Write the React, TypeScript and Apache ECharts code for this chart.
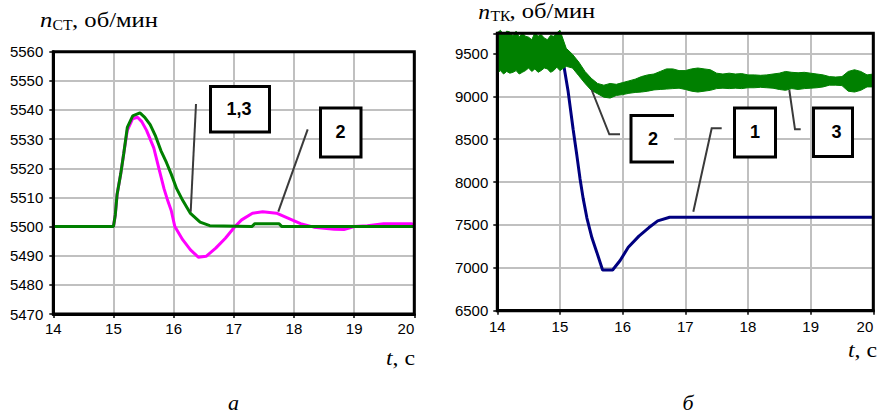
import React, { useEffect, useRef } from 'react';
import * as echarts from 'echarts';

// ---------- Left chart (а): n_СТ, об/мин ----------
const xTicksA = [14, 15, 16, 17, 18, 19, 20];
const yTicksA = [5470, 5480, 5490, 5500, 5510, 5520, 5530, 5540, 5550, 5560];

// curves 1,3 (green)
const c13T = [14, 15.0, 15.03, 15.06, 15.12, 15.17, 15.23, 15.32, 15.44, 15.52, 15.61, 15.7, 15.79, 15.88, 15.96, 16.05, 16.15, 16.28, 16.44, 16.6, 17.3, 17.35, 17.75, 17.8, 20];
const c13V = [5500, 5500, 5504, 5511, 5518, 5525, 5534, 5538, 5539, 5537.5, 5535, 5531, 5526, 5522, 5518, 5513, 5509, 5504.5, 5501.5, 5500.3, 5500, 5501, 5501, 5500, 5500];

// curve 2 (magenta)
const c2T = [14, 15.0, 15.03, 15.06, 15.12, 15.17, 15.23, 15.32, 15.4, 15.47, 15.55, 15.67, 15.76, 15.84, 15.9, 15.96, 16.02, 16.15, 16.28, 16.41, 16.54, 16.7, 16.86, 17.02, 17.13, 17.31, 17.48, 17.71, 17.89, 18.11, 18.33, 18.67, 18.83, 19.0, 19.22, 19.49, 19.95, 20];
const c2V = [5500, 5500, 5504, 5511, 5518, 5525, 5533, 5537, 5537.5, 5536, 5533, 5527, 5519.5, 5513, 5509, 5505.5, 5500, 5495.5, 5492, 5489.5, 5489.8, 5492.6, 5496, 5500, 5502.3, 5504.6, 5505.1, 5504.6, 5503, 5501, 5499.8, 5499.1, 5499, 5500, 5500.3, 5501, 5501, 5500.5];

// ---------- Right chart (б): n_ТК, об/мин ----------
const xTicksB = [14, 15, 16, 17, 18, 19, 20];
const yTicksB = [6500, 7000, 7500, 8000, 8500, 9000, 9500];

// curve 1 (navy)
const b1T = [14, 15.0, 15.06, 15.13, 15.21, 15.27, 15.32, 15.37, 15.43, 15.51, 15.59, 15.68, 15.84, 15.96, 16.09, 16.26, 16.42, 16.56, 16.75, 20];
const b1V = [9450, 9450, 9365, 9058, 8616, 8309, 8040, 7810, 7580, 7350, 7177, 6975, 6975, 7085, 7240, 7370, 7470, 7548, 7590, 7590];

// curves 2,3 (green noisy band): upper / lower envelope
const bandT = [14.0, 14.05, 14.1, 14.15, 14.2, 14.25, 14.3, 14.35, 14.4, 14.45, 14.5, 14.55, 14.6, 14.65, 14.7, 14.75, 14.8, 14.85, 14.9, 14.95, 15.0, 15.1, 15.2, 15.3, 15.4, 15.5, 15.6, 15.7, 15.8, 15.9, 16.0, 16.1, 16.2, 16.3, 16.4, 16.5, 16.6, 16.7, 16.8, 16.9, 17.0, 17.1, 17.2, 17.3, 17.4, 17.5, 17.6, 17.7, 17.8, 17.9, 18.0, 18.1, 18.2, 18.3, 18.4, 18.5, 18.6, 18.7, 18.8, 18.9, 19.0, 19.1, 19.2, 19.3, 19.4, 19.5, 19.6, 19.7, 19.8, 19.9, 20.0];
const bandHi = [9740, 9770, 9720, 9760, 9750, 9700, 9760, 9690, 9740, 9700, 9690, 9660, 9740, 9700, 9720, 9680, 9660, 9710, 9700, 9740, 9770, 9560, 9490, 9400, 9290, 9210, 9150, 9130, 9150, 9140, 9160, 9180, 9200, 9230, 9250, 9260, 9290, 9320, 9320, 9300, 9300, 9320, 9330, 9320, 9310, 9270, 9260, 9270, 9260, 9265, 9250, 9250, 9245, 9250, 9260, 9270, 9290, 9280, 9275, 9280, 9270, 9260, 9250, 9230, 9225, 9230, 9290, 9310, 9290, 9250, 9260];
const bandLo = [9270, 9300, 9260, 9290, 9270, 9280, 9300, 9260, 9280, 9300, 9330, 9290, 9320, 9280, 9300, 9330, 9320, 9280, 9300, 9340, 9300, 9350, 9330, 9240, 9150, 9070, 9030, 8990, 8980, 9010, 9020, 9035, 9045, 9050, 9060, 9075, 9080, 9085, 9090, 9095, 9080, 9060, 9050, 9060, 9070, 9090, 9095, 9090, 9095, 9090, 9100, 9100, 9105, 9100, 9095, 9080, 9070, 9090, 9080, 9090, 9095, 9100, 9110, 9130, 9130, 9125, 9060, 9050, 9070, 9110, 9110];

const SANS = '"Liberation Sans", Arial, sans-serif';
const SERIF = '"Liberation Serif", "Times New Roman", serif';

const GA = { left: 53.3, top: 51.7, width: 361, height: 262.3 };
const GB = { left: 497.3, top: 33.3, width: 376, height: 277.4 };

function pairs(t: number[], v: number[]) {
  return t.map((x, i) => [x, v[i]]);
}

function xAxisCfg(gridIndex: number, ticks: number[], margin: number) {
  return {
    type: 'value', gridIndex, min: ticks[0], max: ticks[ticks.length - 1], interval: 1,
    axisLine: { show: true, lineStyle: { color: '#000', width: 3 } },
    axisTick: { show: true, length: 4, lineStyle: { color: '#000', width: 1.5 } },
    axisLabel: { fontSize: 15, fontFamily: SANS, color: '#000', margin, alignMaxLabel: 'right' },
    splitLine: { show: true, lineStyle: { color: '#c0c0c0', width: 2 } },
  };
}

function yAxisCfg(gridIndex: number, ticks: number[], max: number, interval: number, margin: number) {
  return {
    type: 'value', gridIndex, min: ticks[0], max, interval,
    axisLine: { show: true, lineStyle: { color: '#000', width: 3 } },
    axisTick: { show: true, length: 4, lineStyle: { color: '#000', width: 1.5 } },
    axisLabel: {
      fontSize: 15, fontFamily: SANS, color: '#000', margin,
      formatter: (v: number) => (ticks.indexOf(v) >= 0 ? String(v) : ''),
    },
    splitLine: { show: true, lineStyle: { color: '#c0c0c0', width: 2 } },
  };
}

function txt(x: number, y: number, text: string, font: string, align = 'left', sx = 1) {
  return { type: 'text', x, y, z: 120, scaleX: sx, style: { text, font, fill: '#000', align, verticalAlign: 'middle' } };
}

function box(x: number, y: number, w: number, h: number) {
  return { type: 'rect', z: 110, shape: { x, y, width: w, height: h }, style: { fill: '#fff', stroke: '#000', lineWidth: 3 } };
}

function leader(points: number[][]) {
  return { type: 'polyline', z: 105, shape: { points }, style: { stroke: '#3a3a3a', lineWidth: 2, fill: null } };
}

export default function App() {
  const ref = useRef<HTMLDivElement>(null);
  useEffect(() => {
    document.body.style.margin = '0';
    if (!ref.current) return;
    const chart = echarts.init(ref.current, undefined, { renderer: 'svg' });
    const boldDigit = 'bold 18px ' + SANS;
    const SX = 1.12;
    const tLabel = (x: number, y: number) => ({
      type: 'text', x, y, z: 120, scaleX: 1.08,
      style: {
        text: '{i|t}{r|, с}', align: 'right', verticalAlign: 'middle',
        rich: { i: { font: 'italic 22px ' + SERIF, fill: '#000' }, r: { font: '22px ' + SERIF, fill: '#000' } },
      },
    });
    chart.setOption({
      animation: false,
      backgroundColor: '#fff',
      grid: [
        { left: GA.left, top: GA.top, width: GA.width, height: GA.height },
        { left: GB.left, top: GB.top, width: GB.width, height: GB.height },
      ],
      xAxis: [xAxisCfg(0, xTicksA, 7), xAxisCfg(1, xTicksB, 8)],
      yAxis: [
        yAxisCfg(0, yTicksA, 5560, 10, 10),
        yAxisCfg(1, yTicksB, 9735, 500, 9),
      ],
      series: [
        {
          type: 'line', xAxisIndex: 0, yAxisIndex: 0, data: pairs(c2T, c2V), showSymbol: false,
          lineStyle: { color: '#ff00ff', width: 3 }, z: 2,
        },
        {
          type: 'line', xAxisIndex: 0, yAxisIndex: 0, data: pairs(c13T, c13V), showSymbol: false,
          lineStyle: { color: '#008000', width: 3 }, z: 3,
        },
        {
          type: 'line', xAxisIndex: 1, yAxisIndex: 1, data: pairs(b1T, b1V), showSymbol: false,
          lineStyle: { color: '#000080', width: 3 }, z: 2,
        },
        {
          type: 'custom', xAxisIndex: 1, yAxisIndex: 1, z: 3, clip: false,
          data: [[17, 9200]],
          renderItem: (params: any, api: any) => {
            const top = bandT.map((t, i) => api.coord([t, bandHi[i]]));
            const bot = bandT.map((t, i) => api.coord([t, bandLo[i]])).reverse();
            return {
              type: 'polygon',
              shape: { points: top.concat(bot) },
              style: { fill: '#008000', stroke: '#008000', lineWidth: 1 },
            };
          },
        },
      ],
      graphic: [
        // plot frames
        { type: 'rect', z: 100, shape: { x: GA.left, y: GA.top, width: GA.width, height: GA.height }, style: { fill: null, stroke: '#000', lineWidth: 3 } },
        { type: 'rect', z: 100, shape: { x: GB.left, y: GB.top, width: GB.width, height: GB.height }, style: { fill: null, stroke: '#000', lineWidth: 3 } },
        // titles
        txt(40, 19.3, 'n', 'italic 22px ' + SERIF, 'left', SX),
        txt(52.5, 25.5, 'СТ', '14px ' + SERIF, 'left', SX),
        txt(72, 19.3, ', об/мин', '22px ' + SERIF, 'left', SX),
        txt(478.3, 11.5, 'n', 'italic 21px ' + SERIF, 'left', SX),
        txt(490.5, 16.5, 'ТК', '14px ' + SERIF, 'left', SX),
        txt(509.5, 11.5, ', об/мин', '21px ' + SERIF, 'left', 1.17),
        // axis names
        tLabel(415, 357.6),
        tLabel(877, 349.3),
        txt(233.5, 402.6, 'а', 'italic 22px ' + SERIF, 'center'),
        txt(688, 402.6, 'б', 'italic 22px ' + SERIF, 'center'),
        // left annotations
        leader([[196, 104], [190.7, 211.7]]),
        leader([[307.7, 129.3], [278.3, 211.7]]),
        box(210.5, 86.5, 59, 45.5),
        txt(239, 109, '1,3', boldDigit, 'center'),
        box(320.5, 108, 40.5, 49),
        txt(340.5, 132, '2', boldDigit, 'center'),
        // right annotations
        leader([[620, 134.3], [609.3, 134.3], [591.7, 90]]),
        leader([[721.7, 128.3], [711.7, 128.3], [693.3, 211.7]]),
        leader([[800.7, 129.3], [795, 129.3], [789.3, 90]]),
        { type: 'rect', z: 109, shape: { x: 630, y: 115, width: 44, height: 48 }, style: { fill: '#fff', stroke: null } },
        { type: 'polyline', z: 110, shape: { points: [[674, 115.5], [631, 115.5], [631, 162], [674, 162]] }, style: { stroke: '#000', lineWidth: 3, fill: null } },
        txt(653, 138.5, '2', boldDigit, 'center'),
        box(734.5, 108, 41, 49),
        txt(755, 132, '1', boldDigit, 'center'),
        box(813.5, 108, 39, 48.5),
        txt(836.5, 132, '3', boldDigit, 'center'),
      ],
    });
    return () => chart.dispose();
  }, []);
  return <div ref={ref} style={{ width: 880, height: 415 }} />;
}
